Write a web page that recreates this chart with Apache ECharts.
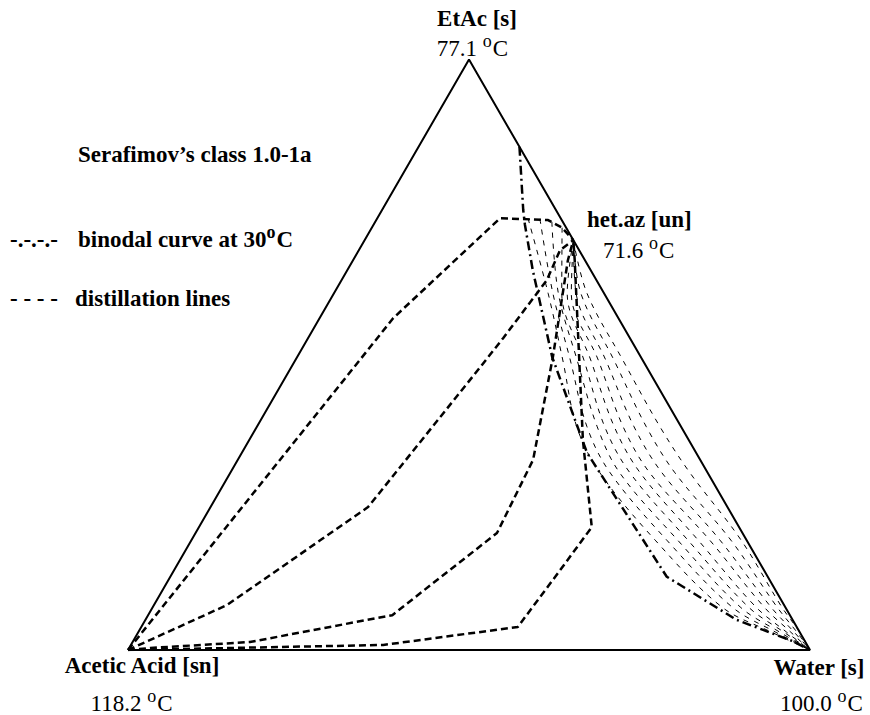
<!DOCTYPE html>
<html>
<head>
<meta charset="utf-8">
<script src="https://cdn.jsdelivr.net/npm/echarts@6/dist/echarts.min.js"></script>
<style>
  html, body { margin: 0; padding: 0; background: #fff; }
  #chart { width: 870px; height: 715px; }
</style>
</head>
<body>
<div id="chart"></div>
<script>
// Compositions are mole fractions [x_water, x_etac]; acetic acid makes up the rest.
const vertices = [[0, 0], [1, 0], [0, 1], [0, 0]];
const hetAz = [0.306, 0.694];

// Liquid-liquid envelope at 30 C
const binodal = [
  [0.148, 0.852], [0.207, 0.745], [0.222, 0.720], [0.272, 0.643], [0.374, 0.496],
  [0.506, 0.334], [0.728, 0.124], [0.867, 0.051], [0.967, 0.015], [1.000, 0.000]
];

// Distillation lines running from acetic acid up to the heteroazeotrope
const distLine1 = [[0, 0], [0.108, 0.562], [0.180, 0.731], [0.252, 0.728], [0.279, 0.715], [0.306, 0.694]];
const distLine2 = [[0, 0], [0.107, 0.076], [0.231, 0.242], [0.277, 0.479], [0.286, 0.528], [0.301, 0.626], [0.295, 0.677], [0.306, 0.694]];
const distLine3 = [[0, 0], [0.031, 0.0034], [0.172, 0.0135], [0.358, 0.059], [0.442, 0.198], [0.433, 0.322], [0.375, 0.496], [0.315, 0.660], [0.306, 0.694]];
const distLine4 = [[0, 0], [0.370, 0.0085], [0.552, 0.039], [0.566, 0.135], [0.576, 0.208], [0.489, 0.356], [0.325, 0.660], [0.306, 0.694]];

// Lines in the two-liquid region heading to the water vertex
const thin1 = [[0.221, 0.731], [0.314, 0.604], [0.392, 0.491], [0.469, 0.378], [0.542, 0.300], [0.680, 0.186], [0.834, 0.073], [0.929, 0.030], [1, 0]];
const thin2 = [[0.239, 0.730], [0.321, 0.604], [0.403, 0.491], [0.484, 0.378], [0.557, 0.300], [0.697, 0.186], [0.849, 0.073], [0.935, 0.030], [1, 0]];
const thin3 = [[0.259, 0.725], [0.329, 0.604], [0.413, 0.491], [0.499, 0.378], [0.571, 0.300], [0.713, 0.186], [0.861, 0.073], [0.941, 0.030], [1, 0]];
const thin4 = [[0.279, 0.715], [0.334, 0.604], [0.423, 0.491], [0.510, 0.378], [0.586, 0.300], [0.728, 0.186], [0.873, 0.073], [0.947, 0.030], [1, 0]];
const thin5 = [[0.306, 0.694], [0.342, 0.604], [0.433, 0.491], [0.524, 0.378], [0.601, 0.300], [0.743, 0.186], [0.884, 0.073], [0.951, 0.030], [1, 0]];
const thin6 = [[0.306, 0.694], [0.348, 0.604], [0.444, 0.491], [0.537, 0.378], [0.615, 0.300], [0.760, 0.186], [0.896, 0.073], [0.957, 0.030], [1, 0]];
const thin7 = [[0.306, 0.694], [0.355, 0.604], [0.455, 0.491], [0.553, 0.378], [0.633, 0.300], [0.775, 0.186], [0.906, 0.073], [0.962, 0.030], [1, 0]];
const thin8 = [[0.306, 0.694], [0.362, 0.604], [0.467, 0.491], [0.571, 0.378], [0.652, 0.300], [0.791, 0.186], [0.915, 0.073], [0.966, 0.030], [1, 0]];
const thin9 = [[0.306, 0.694], [0.371, 0.604], [0.480, 0.491], [0.591, 0.378], [0.674, 0.300], [0.806, 0.186], [0.922, 0.073], [0.970, 0.030], [1, 0]];

const vertexNames = ['Acetic Acid [sn]', 'Water [s]', 'EtAc [s]'];
const vertexTemps = ['118.2', '100.0', '77.1'];
const azName = 'het.az [un]';
const azTemp = '71.6';

const SQ3 = Math.sqrt(3) / 2;
// ternary [water, etac] -> cartesian plot coordinates
const toXY = (p) => [p[0] + p[1] / 2, p[1] * SQ3];

const FONT = "'Liberation Serif', 'Times New Roman', serif";
const FS = 23;
const SUP = 18;

function lineSeries(name, pts, style, smooth) {
  return {
    name, type: 'line', data: pts.map(toXY),
    symbol: 'none', smooth: smooth || false, silent: true,
    lineStyle: Object.assign({ color: '#000' }, style),
    z: 2
  };
}

const thickDash = { width: 2.5, type: [7, 4] };
const thinDash = { width: 1, type: [5, 6] };

const series = [
  lineSeries('triangle', vertices, { width: 2, type: 'solid' }),
  lineSeries('binodal', binodal, { width: 2.5, type: [9, 4, 2, 4] }),
  lineSeries('d1', distLine1, thickDash),
  lineSeries('d2', distLine2, thickDash),
  lineSeries('d3', distLine3, thickDash),
  lineSeries('d4', distLine4, thickDash)
];
[thin1, thin2, thin3, thin4, thin5, thin6, thin7, thin8, thin9].forEach((t, i) => {
  series.push(lineSeries('t' + (i + 1), t, thinDash, 0.35));
});

const mctx = document.createElement('canvas').getContext('2d');
function textWidth(s, font) { mctx.font = font; return mctx.measureText(s).width; }

function txt(text, x, y, align, bold) {
  return {
    type: 'text', x, y, silent: true,
    style: {
      text, textAlign: align, textVerticalAlign: 'middle',
      font: (bold ? 'bold ' : '') + FS + 'px ' + FONT, fill: '#000'
    }
  };
}

// "<value> oC" with the small raised o used for degrees
function degLabel(value, x, y, align, bold) {
  const w = bold ? 'bold ' : '';
  const fMain = w + FS + 'px ' + FONT;
  const fSup = w + SUP + 'px ' + FONT;
  const wa = textWidth(value, fMain);
  const wo = textWidth('o', fSup);
  const wc = textWidth('C', fMain);
  const total = wa + wo + wc;
  const x0 = align === 'center' ? x - total / 2 : x;
  const base = { textAlign: 'left', textVerticalAlign: 'middle', fill: '#000' };
  return [
    { type: 'text', x: x0, y, silent: true, style: Object.assign({ text: value, font: fMain }, base) },
    { type: 'text', x: x0 + wa, y: y - 7.5, silent: true, style: Object.assign({ text: 'o', font: fSup }, base) },
    { type: 'text', x: x0 + wa + wo + 1, y, silent: true, style: Object.assign({ text: 'C', font: fMain }, base) }
  ];
}

const graphics = [].concat(
  txt(vertexNames[2], 477, 18, 'center', true),
  degLabel(vertexTemps[2] + ' ', 472, 48, 'center', false),
  txt(vertexNames[0], 142, 665, 'center', true),
  degLabel(vertexTemps[0] + ' ', 131, 703, 'center', false),
  txt(vertexNames[1], 819, 667, 'center', true),
  degLabel(vertexTemps[1] + ' ', 821, 703, 'center', false),
  txt(azName, 587, 219, 'left', true),
  degLabel(azTemp + ' ', 603, 250, 'left', false),
  txt('Serafimov\u2019s class 1.0-1a', 78, 154, 'left', true),
  txt('-.-.-.-', 10, 239, 'left', true),
  degLabel('binodal curve at 30', 78, 239, 'left', true),
  txt('- - - -', 10, 298, 'left', true),
  txt('distillation lines', 75, 298, 'left', true)
);

const chart = echarts.init(document.getElementById('chart'), null, { renderer: 'svg' });
chart.setOption({
  animation: false,
  backgroundColor: '#fff',
  grid: { left: 128, right: 60, top: 59.4, bottom: 65, containLabel: false },
  xAxis: { type: 'value', min: 0, max: 1, show: false },
  yAxis: { type: 'value', min: 0, max: SQ3, show: false },
  series,
  graphic: graphics
});
</script>
</body>
</html>
